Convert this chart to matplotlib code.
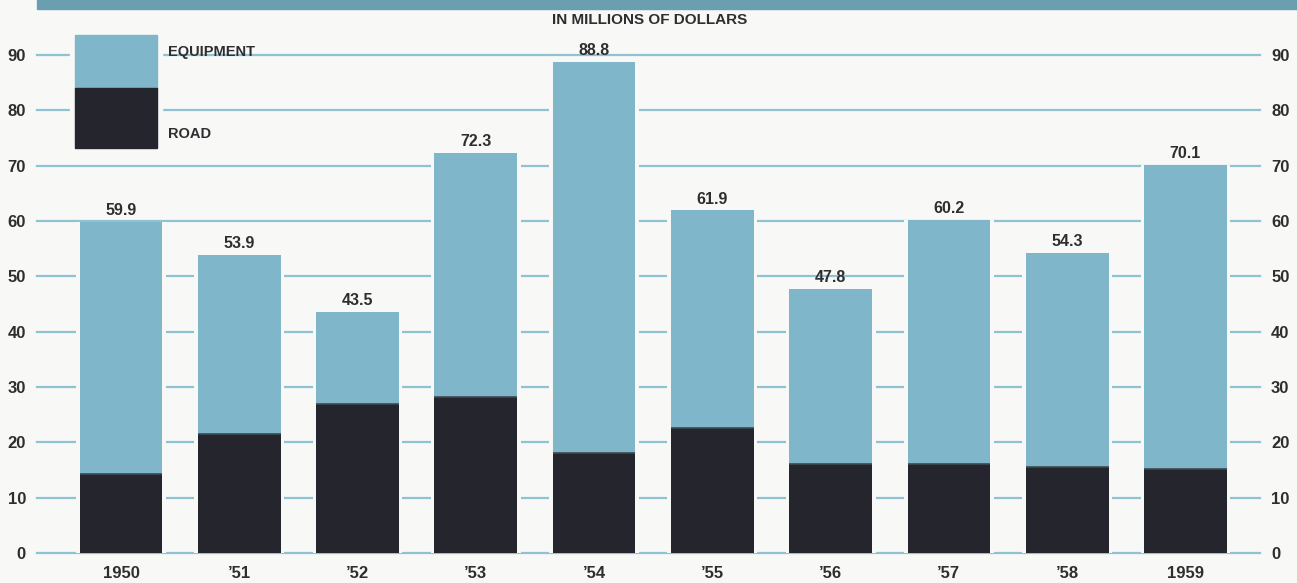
import matplotlib.pyplot as plt
from matplotlib.patches import Rectangle

# Datos (millones de dólares)
anios = ['1950', '’51', '’52', '’53', '’54', '’55', '’56', '’57', '’58', '1959']
totales = [59.9, 53.9, 43.5, 72.3, 88.8, 61.9, 47.8, 60.2, 54.3, 70.1]
road = [14.3, 21.5, 27.0, 28.2, 18.0, 22.6, 16.1, 16.0, 15.5, 15.1]
equipment = [t - r for t, r in zip(totales, road)]
ticks_y = [0, 10, 20, 30, 40, 50, 60, 70, 80, 90]

color_equip = '#80b6c9'
color_road = '#25262d'
color_grid = '#8fc2d2'
color_texto = '#2e2e30'
fondo = '#f8f8f6'

plt.rcParams['font.family'] = ['Liberation Sans', 'DejaVu Sans']

# 1. Figura y ejes
fig = plt.figure(figsize=(12.97, 5.83), dpi=100, facecolor=fondo)
ax = fig.add_axes([37 / 1297, 30 / 583, (1260 - 37) / 1297, (553 - 55) / 583])
ax.set_facecolor(fondo)
ax.set_xlim(-0.71, 9.63)
ax.set_ylim(0, 90)

# 2. Líneas de guía
for v in ticks_y:
    ax.axhline(v, color=color_grid, lw=1.6, zorder=1, clip_on=False)

# 3. Barras apiladas (con un fondo claro para cortar las líneas)
x = range(len(anios))
ancho = 0.70
ax.bar(x, totales, width=ancho + 0.06, color=fondo, zorder=2)
ax.bar(x, road, width=ancho, color=color_road, zorder=3)
ax.bar(x, equipment, bottom=road, width=ancho, color=color_equip, zorder=3)
ax.hlines(road, [i - ancho / 2 for i in x], [i + ancho / 2 for i in x],
          color='#3d4a52', lw=1.2, zorder=4)

for i, t in enumerate(totales):
    ax.text(i, t + 0.7, f'{t:.1f}', ha='center', va='bottom', fontsize=11.5,
            fontweight='bold', color=color_texto, zorder=5)

# 4. Ejes y etiquetas
for s in ax.spines.values():
    s.set_visible(False)
ax.set_xticks(list(x))
ax.set_xticklabels(anios)
ax.set_yticks(ticks_y)
ax.tick_params(axis='x', length=0, pad=9, labelsize=12, labelcolor=color_texto)
ax.tick_params(axis='y', length=0, pad=8, labelsize=12, labelcolor=color_texto,
               labelleft=True, labelright=True)
for lab in ax.get_xticklabels() + ax.get_yticklabels():
    lab.set_fontweight('bold')
for lab in ax.yaxis.get_ticklabels(which='major'):
    lab.set_fontweight('bold')

# 5. Banda superior y título
fig.patches.append(Rectangle((37 / 1297, 574 / 583), 1, 9 / 583,
                             transform=fig.transFigure, color='#6a9fb0', zorder=0))
fig.text(650 / 1297, 1 - 20 / 583, 'IN MILLIONS OF DOLLARS', ha='center', va='center',
         fontsize=11, fontweight='bold', color=color_texto)

# 6. Leyenda manual
fig.patches.append(Rectangle((70 / 1297, 1 - 152 / 583), 92 / 1297, 121 / 583,
                             transform=fig.transFigure, color=fondo, zorder=3))
fig.patches.append(Rectangle((75 / 1297, 1 - 88 / 583), 82 / 1297, 53 / 583,
                             transform=fig.transFigure, color=color_equip, zorder=4))
fig.patches.append(Rectangle((75 / 1297, 1 - 148 / 583), 82 / 1297, 60 / 583,
                             transform=fig.transFigure, color=color_road, zorder=4))
fig.text(168 / 1297, 1 - 52 / 583, 'EQUIPMENT', ha='left', va='center', fontsize=10.5,
         fontweight='bold', color=color_texto, zorder=5)
fig.text(168 / 1297, 1 - 134 / 583, 'ROAD', ha='left', va='center', fontsize=10.5,
         fontweight='bold', color=color_texto, zorder=5)

plt.savefig('out.png', dpi=100, facecolor=fondo)
plt.close(fig)
